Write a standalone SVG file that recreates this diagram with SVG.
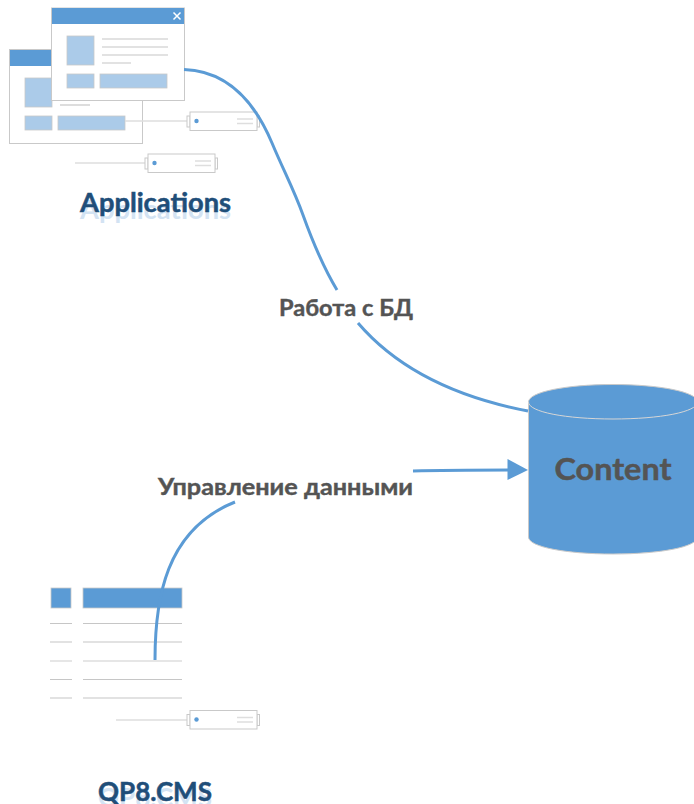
<svg xmlns="http://www.w3.org/2000/svg" width="694" height="804" viewBox="0 0 694 804">
<style>
.win{fill:#fff;stroke:#c9c9c9;stroke-width:1}
.hd{fill:#5b9bd5}
.lt{fill:#abcbe9;stroke:#c9c9c9;stroke-width:.8}
.ln{stroke:#c6c6c6;stroke-width:1.200;fill:none}
.lnl{stroke:#dedede;stroke-width:1.500;fill:none}
.conn{stroke:#5b9bd5;stroke-width:3;fill:none}
.t{font-family:Lato,"Open Sans","Noto Sans",sans-serif;font-weight:700}
.lab{fill:#545454;stroke:#545454;stroke-width:.4;font-size:22px}
.ttl{fill:#1f4e79;stroke:#1f4e79;stroke-width:.5;font-size:26px}
.ref{fill:#d3e3f3;font-size:26px}
.big{fill:#545454;stroke:#545454;stroke-width:.5;font-size:31px}
</style>
<defs>
<g id="srv">
<rect x="-3" y="4" width="3" height="11" class="win"/>
<rect x="67" y="4" width="2.500" height="11" class="win"/>
<rect x="0" y="0" width="67" height="18.500" class="win"/>
<circle cx="6.500" cy="9" r="2.200" fill="#5b9bd5"/>
<path d="M47 7H63M47 11.500H63" class="lnl"/>
</g>
</defs>
<g id="applications">
<rect x="9.500" y="49.500" width="133" height="94" class="win"/>
<rect x="10" y="50" width="132" height="16" class="hd"/>
<rect x="25" y="78" width="27" height="29" class="lt"/>
<path d="M60 105H90" class="ln"/>
<rect x="25" y="116" width="27" height="14" class="lt"/>
<rect x="58" y="116" width="67" height="14" class="lt"/>
<path d="M125 121H187" class="lnl"/>
<use href="#srv" x="190" y="112"/>
<path d="M75 163H145" class="lnl"/>
<use href="#srv" x="148" y="154"/>
<rect x="51.500" y="8" width="133" height="92.500" class="win"/>
<rect x="52" y="8" width="132" height="16" class="hd"/>
<path d="M173.500 12.500L180.500 19.500M180.500 12.500L173.500 19.500" stroke="#fff" stroke-width="1.500" fill="none"/>
<rect x="67" y="36" width="27" height="29" class="lt"/>
<path d="M102 39H168M102 47H168M102 55H168M102 63H131" class="ln"/>
<rect x="67" y="74" width="27" height="14" class="lt"/>
<rect x="100" y="74" width="67" height="14" class="lt"/>
<text x="155.500" y="219" text-anchor="middle" class="t ref" textLength="151" lengthAdjust="spacingAndGlyphs">Applications</text>
<text x="155.500" y="212" text-anchor="middle" class="t ttl" textLength="151" lengthAdjust="spacingAndGlyphs">Applications</text>
</g>
<g id="qp8-cms">
<rect x="51" y="588" width="20" height="20" class="hd" stroke="#c9c9c9" stroke-width=".8"/>
<rect x="83" y="588" width="99" height="20" class="hd" stroke="#c9c9c9" stroke-width=".8"/>
<path d="M50 623.500H72M83 623.500H182M50 642H72M83 642H182M50 679.500H72M83 679.500H182M50 698H72M83 698H182" class="ln"/>
<path d="M50 661H72M83 661H182" class="lnl"/>
<path d="M116 720H187" class="lnl"/>
<use href="#srv" x="190" y="710.500"/>
<text x="155" y="807" text-anchor="middle" class="t ref" textLength="114" lengthAdjust="spacingAndGlyphs">QP8.CMS</text>
<text x="155" y="801" text-anchor="middle" class="t ttl" textLength="114" lengthAdjust="spacingAndGlyphs">QP8.CMS</text>
</g>
<g id="content">
<path d="M528.500 402V537C528.500 547 566 554 613 554S697.500 547 697.500 537V402C697.500 392 660 384.500 613 384.500S528.500 392 528.500 402Z" fill="#5b9bd5" stroke="#c9c9c9" stroke-width="1"/>
<path d="M528.500 402C528.500 412 566 419 613 419S697.500 412 697.500 402" fill="none" stroke="#d6d6d6" stroke-width="1"/>
<text x="613" y="480" text-anchor="middle" class="t big" textLength="117" lengthAdjust="spacingAndGlyphs">Content</text>
</g>
<g id="connectors">
<path d="M184 69.500C230 71 256 105 272 143C284 171.500 294 190 303 215C312 240 322 265 337 290" class="conn"/>
<path d="M358 323C400 372 460 398 528 411" class="conn"/>
<path d="M155 660C155 600 165 530 235 502" class="conn"/>
<path d="M413 471C445 470 480 470 509 470" class="conn"/>
<path d="M507.500 459L528 470L507.500 480Z" fill="#5b9bd5"/>
</g>
<g id="labels">
<text x="346" y="315.500" text-anchor="middle" class="t lab" textLength="134" lengthAdjust="spacingAndGlyphs">Работа с БД</text>
<text x="285.500" y="494.500" text-anchor="middle" class="t lab" textLength="255" lengthAdjust="spacingAndGlyphs">Управление данными</text>
</g>
</svg>
